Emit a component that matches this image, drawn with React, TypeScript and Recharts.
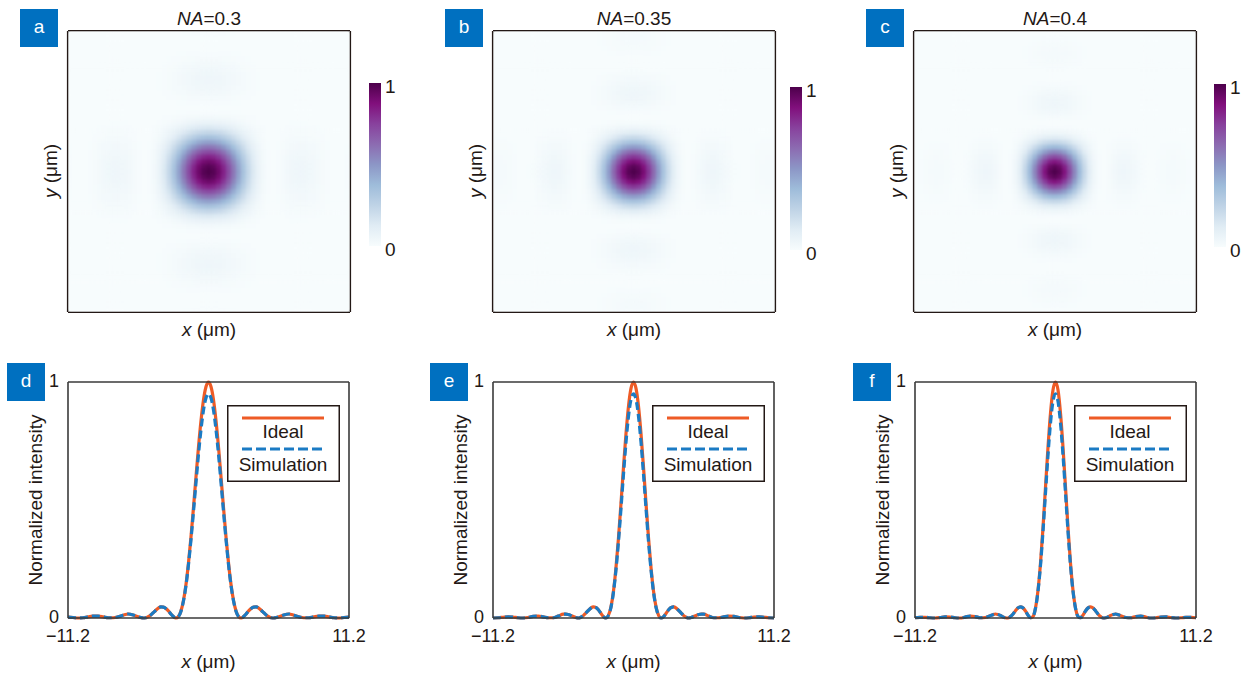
import React from 'react';
import { LineChart, Line, XAxis, YAxis, Legend, ScatterChart, Scatter, BarChart, Bar } from 'recharts';

// ---------- data ----------
const X_POS = [
  -11.2, -10.8, -10.4, -10.0, -9.6, -9.2, -8.8, -8.4, -8.0, -7.6, -7.2, -6.8, -6.4, -6.0,
  -5.6, -5.4, -5.2, -5.0, -4.8, -4.6, -4.4, -4.2, -4.0, -3.8, -3.6, -3.4, -3.2, -3.0, -2.8, -2.6, -2.4, -2.2, -2.0, -1.8, -1.6, -1.4, -1.2, -1.0, -0.8, -0.6, -0.4, -0.2,
  0,
  0.2, 0.4, 0.6, 0.8, 1.0, 1.2, 1.4, 1.6, 1.8, 2.0, 2.2, 2.4, 2.6, 2.8, 3.0, 3.2, 3.4, 3.6, 3.8, 4.0, 4.2, 4.4, 4.6, 4.8, 5.0, 5.2, 5.4, 5.6,
  6.0, 6.4, 6.8, 7.2, 7.6, 8.0, 8.4, 8.8, 9.2, 9.6, 10.0, 10.4, 10.8, 11.2,
];

// NA = 0.3
const D_IDEAL = [
  0.004, 0.002, 0.000, 0.001, 0.005, 0.008, 0.008, 0.005, 0.001, 0.001, 0.005, 0.012, 0.017, 0.013,
  0.005, 0.002, 0.000, 0.001, 0.006, 0.013, 0.023, 0.033, 0.042, 0.047, 0.046, 0.040, 0.030, 0.017, 0.006, 0.000, 0.006, 0.029, 0.073, 0.140, 0.231, 0.341, 0.466, 0.596, 0.723, 0.835, 0.924, 0.980,
  1.000,
  0.980, 0.924, 0.835, 0.723, 0.596, 0.466, 0.341, 0.231, 0.140, 0.073, 0.029, 0.006, 0.000, 0.006, 0.017, 0.030, 0.040, 0.046, 0.047, 0.042, 0.033, 0.023, 0.013, 0.006, 0.001, 0.000, 0.002, 0.005,
  0.013, 0.017, 0.012, 0.005, 0.001, 0.001, 0.005, 0.008, 0.008, 0.005, 0.001, 0.000, 0.002, 0.004,
];
const D_SIM = [
  0.004, 0.002, 0.000, 0.001, 0.005, 0.008, 0.008, 0.005, 0.001, 0.001, 0.005, 0.012, 0.017, 0.013,
  0.005, 0.002, 0.000, 0.001, 0.006, 0.013, 0.023, 0.033, 0.042, 0.047, 0.046, 0.040, 0.030, 0.017, 0.006, 0.000, 0.006, 0.028, 0.071, 0.136, 0.224, 0.330, 0.449, 0.572, 0.692, 0.797, 0.880, 0.932,
  0.950,
  0.932, 0.880, 0.797, 0.692, 0.572, 0.449, 0.330, 0.224, 0.136, 0.071, 0.028, 0.006, 0.000, 0.006, 0.017, 0.030, 0.040, 0.046, 0.047, 0.042, 0.033, 0.023, 0.013, 0.006, 0.001, 0.000, 0.002, 0.005,
  0.013, 0.017, 0.012, 0.005, 0.001, 0.001, 0.005, 0.008, 0.008, 0.005, 0.001, 0.000, 0.002, 0.004,
];

// NA = 0.35
const E_IDEAL = [
  0.000, 0.001, 0.003, 0.005, 0.004, 0.001, 0.000, 0.002, 0.007, 0.008, 0.005, 0.001, 0.001, 0.008,
  0.016, 0.016, 0.015, 0.011, 0.006, 0.002, 0.000, 0.003, 0.010, 0.021, 0.032, 0.042, 0.047, 0.045, 0.035, 0.020, 0.006, 0.000, 0.011, 0.046, 0.112, 0.211, 0.337, 0.484, 0.637, 0.780, 0.897, 0.973,
  1.000,
  0.973, 0.897, 0.780, 0.637, 0.484, 0.337, 0.211, 0.112, 0.046, 0.011, 0.000, 0.006, 0.020, 0.035, 0.045, 0.047, 0.042, 0.032, 0.021, 0.010, 0.003, 0.000, 0.002, 0.006, 0.011, 0.015, 0.016, 0.016,
  0.008, 0.001, 0.001, 0.005, 0.008, 0.007, 0.002, 0.000, 0.001, 0.004, 0.005, 0.003, 0.001, 0.000,
];
const E_SIM = [
  0.000, 0.001, 0.003, 0.005, 0.004, 0.001, 0.000, 0.002, 0.007, 0.008, 0.005, 0.001, 0.001, 0.008,
  0.016, 0.016, 0.015, 0.011, 0.006, 0.002, 0.000, 0.003, 0.010, 0.021, 0.032, 0.042, 0.047, 0.045, 0.035, 0.020, 0.006, 0.000, 0.011, 0.044, 0.108, 0.202, 0.322, 0.462, 0.607, 0.743, 0.854, 0.926,
  0.950,
  0.926, 0.854, 0.743, 0.607, 0.462, 0.322, 0.202, 0.108, 0.044, 0.011, 0.000, 0.006, 0.020, 0.035, 0.045, 0.047, 0.042, 0.032, 0.021, 0.010, 0.003, 0.000, 0.002, 0.006, 0.011, 0.015, 0.016, 0.016,
  0.008, 0.001, 0.001, 0.005, 0.008, 0.007, 0.002, 0.000, 0.001, 0.004, 0.005, 0.003, 0.001, 0.000,
];

// NA = 0.4
const F_IDEAL = [
  0.001, 0.003, 0.003, 0.001, 0.000, 0.002, 0.005, 0.004, 0.001, 0.000, 0.004, 0.008, 0.006, 0.001,
  0.002, 0.005, 0.010, 0.014, 0.017, 0.015, 0.011, 0.005, 0.001, 0.000, 0.006, 0.016, 0.030, 0.042, 0.047, 0.043, 0.030, 0.013, 0.001, 0.006, 0.041, 0.115, 0.229, 0.380, 0.552, 0.722, 0.867, 0.966,
  1.000,
  0.966, 0.867, 0.722, 0.552, 0.380, 0.229, 0.115, 0.041, 0.006, 0.001, 0.013, 0.030, 0.043, 0.047, 0.042, 0.030, 0.016, 0.006, 0.000, 0.001, 0.005, 0.011, 0.015, 0.017, 0.014, 0.010, 0.005, 0.002,
  0.001, 0.006, 0.008, 0.004, 0.000, 0.001, 0.004, 0.005, 0.002, 0.000, 0.001, 0.003, 0.003, 0.001,
];
const F_SIM = [
  0.001, 0.003, 0.003, 0.001, 0.000, 0.002, 0.005, 0.004, 0.001, 0.000, 0.004, 0.008, 0.006, 0.001,
  0.002, 0.005, 0.010, 0.014, 0.017, 0.015, 0.011, 0.005, 0.001, 0.000, 0.006, 0.016, 0.030, 0.042, 0.047, 0.043, 0.030, 0.013, 0.001, 0.006, 0.040, 0.111, 0.220, 0.364, 0.527, 0.688, 0.825, 0.918,
  0.950,
  0.918, 0.825, 0.688, 0.527, 0.364, 0.220, 0.111, 0.040, 0.006, 0.001, 0.013, 0.030, 0.043, 0.047, 0.042, 0.030, 0.016, 0.006, 0.000, 0.001, 0.005, 0.011, 0.015, 0.017, 0.014, 0.010, 0.005, 0.002,
  0.001, 0.006, 0.008, 0.004, 0.000, 0.001, 0.004, 0.005, 0.002, 0.000, 0.001, 0.003, 0.003, 0.001,
];

const NA_VALUES = ['0.3', '0.35', '0.4'];
const TOP_LETTERS = ['a', 'b', 'c'];
const BOTTOM_LETTERS = ['d', 'e', 'f'];
const SERIES_NAMES = ['Ideal', 'Simulation'];
const X_MINOR_TICKS = [-11.2, -8.711, -6.222, -3.733, -1.244, 1.244, 3.733, 6.222, 8.711, 11.2];
const X_LABEL_TICKS = [-11.2, 11.2];
const Y_MINOR_TICKS = [0, 0.3333, 0.6667, 1];
const Y_LABEL_TICKS = [0, 1];
const CB_TICKS = [0, 1];
const HEAT_HALF = 5.6; // heat map field of view (half width, μm)
const BUPU = ['#f7fcfd', '#e0ecf4', '#bfd3e6', '#9ebcda', '#8c96c6', '#8c6bb1', '#88419d', '#810f7c', '#4d004b'];

const IDEALS = [D_IDEAL, E_IDEAL, F_IDEAL];
const SIMS = [D_SIM, E_SIM, F_SIM];

// ---------- styling ----------
const FONT = '"Liberation Sans", Arial, Helvetica, sans-serif';
const INK = '#231815';
const ORANGE = '#EE5B26';
const BLUE = '#1B7BC4';
const LABEL_BLUE = '#0070C0';
const FS = 19;
const TICK_FS = 18;

const HEAT_LEFT = [68, 493, 914];
const HEAT_TOP = 31;
const HEAT_W = 282;
const HEAT_H = 281;
const CB_LEFT = [369, 790, 1214];
const CB_TOP = [83, 87, 84];
const CB_W = 12;
const CB_H = 163;
const LINE_LEFT = [68, 493, 915];
const LINE_TOP = 382;
const LINE_W = 281;
const LINE_H = 236;

// ---------- helpers ----------
function hexToRgb(h: string) {
  return [parseInt(h.slice(1, 3), 16), parseInt(h.slice(3, 5), 16), parseInt(h.slice(5, 7), 16)];
}
const BUPU_RGB = BUPU.map(hexToRgb);
function bupu(v: number) {
  const t = Math.max(0, Math.min(1, v)) * (BUPU.length - 1);
  const i = Math.min(BUPU.length - 2, Math.floor(t));
  const f = t - i;
  const a = BUPU_RGB[i];
  const b = BUPU_RGB[i + 1];
  const c = a.map((ai, k) => Math.round(ai + (b[k] - ai) * f));
  return `rgb(${c[0]},${c[1]},${c[2]})`;
}

function buildCells(profile: number[]) {
  const idx = X_POS.map((_, i) => i).filter((i) => Math.abs(X_POS[i]) <= HEAT_HALF + 1e-9);
  const cells: { x: number; y: number; v: number }[] = [];
  for (const i of idx) for (const j of idx) cells.push({ x: X_POS[i], y: X_POS[j], v: profile[i] * profile[j] });
  return { cells, n: idx.length };
}

function buildRows(ideal: number[], sim: number[]) {
  return X_POS.map((x, i) => ({ x, ideal: ideal[i], sim: sim[i] }));
}

const fmtTick = (v: number) => (v < 0 ? '\u2212' + Math.abs(v).toFixed(1) : v.toFixed(1));

// ---------- components ----------
const Abs: React.FC<{ x: number; y: number; rotate?: boolean; children: React.ReactNode }> = ({ x, y, rotate, children }) => (
  <div
    style={{
      position: 'absolute',
      left: x,
      top: y,
      transform: `translate(-50%, -50%)${rotate ? ' rotate(-90deg)' : ''}`,
      whiteSpace: 'nowrap',
      fontSize: FS,
      lineHeight: 1,
      color: INK,
    }}
  >
    {children}
  </div>
);

const PanelLetter: React.FC<{ x: number; y: number; letter: string }> = ({ x, y, letter }) => (
  <div
    style={{
      position: 'absolute',
      left: x,
      top: y,
      width: 38,
      height: 38,
      background: LABEL_BLUE,
      color: '#fff',
      fontSize: 19,
      lineHeight: '36px',
      textAlign: 'center',
    }}
  >
    {letter}
  </div>
);

const HeatMap: React.FC<{ k: number }> = ({ k }) => {
  const { cells, n } = buildCells(IDEALS[k]);
  const cw = HEAT_W / n + 0.7;
  const ch = HEAT_H / n + 0.7;
  const dom: [number, number] = [-(HEAT_HALF + 0.1), HEAT_HALF + 0.1];
  const shape = (p: any) => {
    if (p.cx == null || p.cy == null) return <g />;
    return <rect x={p.cx - cw / 2} y={p.cy - ch / 2} width={cw} height={ch} fill={bupu(p.payload.v)} />;
  };
  const axisLine = { stroke: INK, strokeWidth: 2.2 };
  return (
    <div className="heat" style={{ position: 'absolute', left: HEAT_LEFT[k] - 3, top: HEAT_TOP - 3 }}>
      <ScatterChart width={HEAT_W + 6} height={HEAT_H + 6} margin={{ top: 3, right: 3, bottom: 3, left: 3 }}>
        <XAxis type="number" dataKey="x" domain={dom} allowDataOverflow mirror tick={false} tickLine={false} axisLine={axisLine} />
        <XAxis xAxisId="top" orientation="top" type="number" dataKey="x" domain={dom} allowDataOverflow mirror tick={false} tickLine={false} axisLine={axisLine} />
        <YAxis type="number" dataKey="y" domain={dom} allowDataOverflow mirror tick={false} tickLine={false} axisLine={axisLine} />
        <YAxis yAxisId="right" orientation="right" type="number" dataKey="y" domain={dom} allowDataOverflow mirror tick={false} tickLine={false} axisLine={axisLine} />
        <Scatter data={cells} shape={shape} isAnimationActive={false} />
      </ScatterChart>
    </div>
  );
};

const ColorBar: React.FC<{ k: number }> = ({ k }) => {
  const gid = `bupuGrad${k}`;
  const M = 20;
  return (
    <div style={{ position: 'absolute', left: CB_LEFT[k], top: CB_TOP[k] - M }}>
      <BarChart width={CB_W + 30} height={CB_H + 2 * M} data={[{ name: 'cb', v: 1 }]} margin={{ top: M, bottom: M, left: 0, right: 0 }} barCategoryGap={0} barGap={0}>
        <defs>
          <linearGradient id={gid} x1="0" y1="1" x2="0" y2="0">
            {BUPU.map((c, i) => (
              <stop key={i} offset={`${(i / (BUPU.length - 1)) * 100}%`} stopColor={c} />
            ))}
          </linearGradient>
        </defs>
        <XAxis dataKey="name" hide />
        <YAxis
          orientation="right"
          type="number"
          domain={[0, 1]}
          ticks={CB_TICKS}
          width={30}
          tickLine={false}
          axisLine={false}
          tickSize={0}
          tickMargin={4}
          tick={{ fontSize: FS, fill: INK, dy: 3 }}
        />
        <Bar dataKey="v" fill={`url(#${gid})`} isAnimationActive={false} />
      </BarChart>
    </div>
  );
};

const LegendBox: React.FC = () => (
  <svg width={113} height={77} style={{ display: 'block' }}>
    <rect x={0.75} y={0.75} width={111.5} height={75.5} fill="#fff" stroke={INK} strokeWidth={1.5} />
    <line x1={15} x2={97} y1={13} y2={13} stroke={ORANGE} strokeWidth={3.2} />
    <text x={56} y={26} textAnchor="middle" dominantBaseline="central" fontSize={FS} fill={INK}>
      {SERIES_NAMES[0]}
    </text>
    <line x1={15} x2={97} y1={44} y2={44} stroke={BLUE} strokeWidth={3.2} strokeDasharray="10 4" />
    <text x={56} y={59} textAnchor="middle" dominantBaseline="central" fontSize={FS} fill={INK}>
      {SERIES_NAMES[1]}
    </text>
  </svg>
);

const ProfileChart: React.FC<{ k: number }> = ({ k }) => {
  const rows = buildRows(IDEALS[k], SIMS[k]);
  const L = 40;
  const T = 10;
  const R = 34;
  const axisLine = { stroke: '#3a3a3a', strokeWidth: 1.6 };
  const tl = { stroke: '#3a3a3a', strokeWidth: 1.2 };
  return (
    <div style={{ position: 'absolute', left: LINE_LEFT[k] - L, top: LINE_TOP - T }}>
      <LineChart width={LINE_W + L + R} height={LINE_H + T + 34} data={rows} margin={{ top: T, right: R, bottom: 0, left: 0 }}>
        <XAxis
          xAxisId="lab"
          type="number"
          dataKey="x"
          domain={[-11.2, 11.2]}
          ticks={X_LABEL_TICKS}
          interval={0}
          tickFormatter={fmtTick}
          tickLine={false}
          axisLine={false}
          height={34}
          tickSize={6}
          tickMargin={5}
          tick={{ fontSize: TICK_FS, fill: INK }}
        />
        <YAxis
          yAxisId="lab"
          type="number"
          domain={[0, 1]}
          ticks={Y_LABEL_TICKS}
          interval={0}
          width={L}
          tickLine={false}
          axisLine={false}
          tickSize={6}
          tickMargin={3}
          tick={{ fontSize: TICK_FS, fill: INK, dy: -1 }}
        />
        <XAxis xAxisId="bt" type="number" dataKey="x" domain={[-11.2, 11.2]} ticks={X_MINOR_TICKS} interval={0} mirror tick={false} tickSize={4} tickLine={tl} axisLine={axisLine} />
        <XAxis xAxisId="tp" orientation="top" type="number" dataKey="x" domain={[-11.2, 11.2]} ticks={X_MINOR_TICKS} interval={0} mirror tick={false} tickSize={4} tickLine={tl} axisLine={axisLine} />
        <YAxis yAxisId="lt" type="number" domain={[0, 1]} ticks={Y_MINOR_TICKS} interval={0} mirror tick={false} tickSize={4} tickLine={tl} axisLine={axisLine} />
        <YAxis yAxisId="rt" orientation="right" type="number" domain={[0, 1]} ticks={Y_MINOR_TICKS} interval={0} mirror tick={false} tickSize={4} tickLine={tl} axisLine={axisLine} />
        <Line xAxisId="lab" yAxisId="lab" type="monotone" dataKey="ideal" name={SERIES_NAMES[0]} stroke={ORANGE} strokeWidth={3.2} dot={false} activeDot={false} isAnimationActive={false} />
        <Line xAxisId="lab" yAxisId="lab" type="monotone" dataKey="sim" name={SERIES_NAMES[1]} stroke={BLUE} strokeWidth={3.2} strokeDasharray="8 4" dot={false} activeDot={false} isAnimationActive={false} />
        <Legend
          layout="vertical"
          align="center"
          verticalAlign="middle"
          content={() => <LegendBox />}
          wrapperStyle={{ position: 'absolute', left: L + 159, top: T + 23, width: 113, height: 77 }}
        />
      </LineChart>
    </div>
  );
};

export default function App() {
  return (
    <div style={{ position: 'absolute', left: 0, top: 0, width: 1245, height: 673, background: '#fff', fontFamily: FONT, overflow: 'hidden' }}>
      <style>{'.heat .recharts-scatter { filter: blur(1.4px); }'}</style>
      {[0, 1, 2].map((k) => {
        const cx = HEAT_LEFT[k] + HEAT_W / 2;
        const lx = LINE_LEFT[k] + LINE_W / 2;
        return (
          <React.Fragment key={k}>
            <HeatMap k={k} />
            <ColorBar k={k} />
            <PanelLetter x={[20, 445, 866][k]} y={9} letter={TOP_LETTERS[k]} />
            <Abs x={cx} y={18}>
              <i>NA</i>={NA_VALUES[k]}
            </Abs>
            <Abs x={cx} y={329}>
              <i>x</i> (μm)
            </Abs>
            <Abs x={HEAT_LEFT[k] - 18} y={171} rotate>
              <i>y</i> (μm)
            </Abs>
            <ProfileChart k={k} />
            <PanelLetter x={[7, 430, 853][k]} y={363} letter={BOTTOM_LETTERS[k]} />
            <Abs x={lx} y={661}>
              <i>x</i> (μm)
            </Abs>
            <Abs x={LINE_LEFT[k] - 33} y={500} rotate>
              Normalized intensity
            </Abs>
          </React.Fragment>
        );
      })}
    </div>
  );
}
